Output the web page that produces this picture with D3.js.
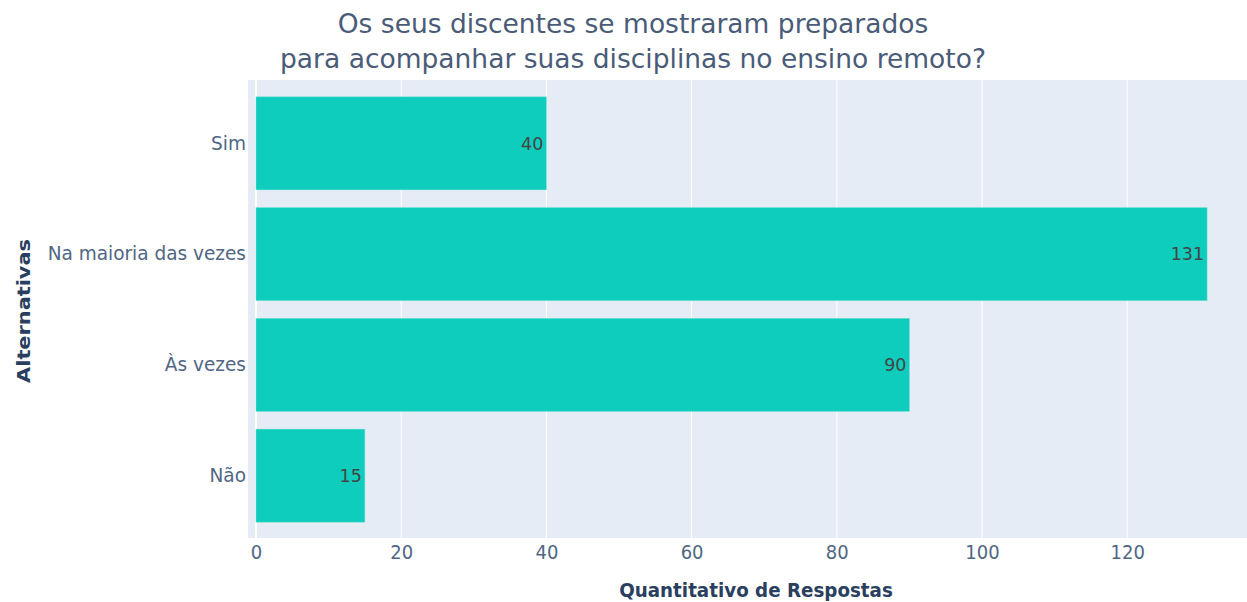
<!DOCTYPE html>
<html>
<head>
<meta charset="utf-8">
<script src="https://cdn.jsdelivr.net/npm/d3@7"></script>
<style>
  body { margin: 0; background: #fff; }
  text { font-family: "DejaVu Sans", Verdana, sans-serif; }
</style>
</head>
<body>
<svg id="chart" width="1247" height="602"></svg>
<script>
const categories = ['Sim', 'Na maioria das vezes', 'Às vezes', 'Não'];
const counts = [40, 131, 90, 15];
const xTicks = [0, 20, 40, 60, 80, 100, 120];
const titleLines = ['Os seus discentes se mostraram preparados', 'para acompanhar suas disciplinas no ensino remoto?'];

const svg = d3.select('#chart');
const plot = {left: 248, right: 1247, top: 80, bottom: 538};
const stretch = 1.04; // the reference text is a touch taller than it is wide

const xScale = d3.scaleLinear().domain([-1.1, 136.5]).range([plot.left, plot.right]);
const yScale = d3.scaleBand().domain(categories).range([88, 531]).paddingInner(0.16).paddingOuter(0.08);

// background
svg.append('rect').attr('x', plot.left).attr('y', plot.top)
  .attr('width', plot.right - plot.left).attr('height', plot.bottom - plot.top)
  .attr('fill', '#e5ecf6');

// gridlines
svg.append('g').selectAll('line').data(xTicks).enter().append('line')
  .attr('x1', d => xScale(d)).attr('x2', d => xScale(d))
  .attr('y1', plot.top).attr('y2', plot.bottom)
  .attr('stroke', '#fff').attr('stroke-width', d => d === 0 ? 2 : 1);

// bars
const data = categories.map((c, i) => ({cat: c, value: counts[i]}));
svg.append('g').selectAll('rect').data(data).enter().append('rect')
  .attr('x', xScale(0)).attr('y', d => yScale(d.cat))
  .attr('width', d => xScale(d.value) - xScale(0))
  .attr('height', yScale.bandwidth())
  .attr('fill', '#0ecdbc').attr('stroke', '#6ee0d4').attr('stroke-width', 0.5);

// value labels
svg.append('g').selectAll('g').data(data).enter().append('g')
  .attr('transform', d => 'translate(' + (xScale(d.value) - 3) + ',' + (yScale(d.cat) + yScale.bandwidth() / 2) + ') scale(1,' + stretch + ')')
  .append('text')
  .attr('dy', '0.35em').attr('text-anchor', 'end')
  .attr('font-size', 17.5).attr('fill', '#444')
  .text(d => d.value);

// x axis
const xAxis = d3.axisBottom(xScale).tickValues(xTicks).tickSize(0).tickPadding(0);
const gx = svg.append('g').attr('transform', 'translate(0,' + plot.bottom + ')').call(xAxis);
gx.select('.domain').remove();
gx.selectAll('text').attr('y', 0).attr('dy', 0)
  .attr('transform', 'translate(0,21) scale(1,' + stretch + ')')
  .attr('font-size', 18).attr('fill', '#506784').style('font-family', '"DejaVu Sans", sans-serif');

// y axis
const yAxis = d3.axisLeft(yScale).tickSize(0).tickPadding(2);
const gy = svg.append('g').attr('transform', 'translate(' + plot.left + ',0)').call(yAxis);
gy.select('.domain').remove();
gy.selectAll('text').attr('transform', 'scale(1,' + stretch + ')')
  .attr('font-size', 18.5).attr('fill', '#506784').style('font-family', '"DejaVu Sans", sans-serif');

// title
svg.append('g').selectAll('g').data(titleLines).enter().append('g')
  .attr('transform', (d, i) => 'translate(633,' + (33 + i * 35) + ')')
  .append('text')
  .attr('text-anchor', 'middle').attr('font-size', 26.5).attr('fill', '#4a5b78')
  .text(d => d);

// axis titles
svg.append('g').attr('transform', 'translate(756,597) scale(1,1.08)')
  .append('text')
  .attr('text-anchor', 'middle').attr('font-size', 18.3).attr('font-weight', 'bold')
  .attr('fill', '#2a3f5f').text('Quantitativo de Respostas');

svg.append('g').attr('transform', 'translate(24,311) scale(1,1.14) rotate(-90)')
  .append('text')
  .attr('text-anchor', 'middle').attr('dy', '0.35em').attr('font-size', 18.3).attr('font-weight', 'bold')
  .attr('fill', '#2a3f5f').text('Alternativas');
</script>
</body>
</html>
